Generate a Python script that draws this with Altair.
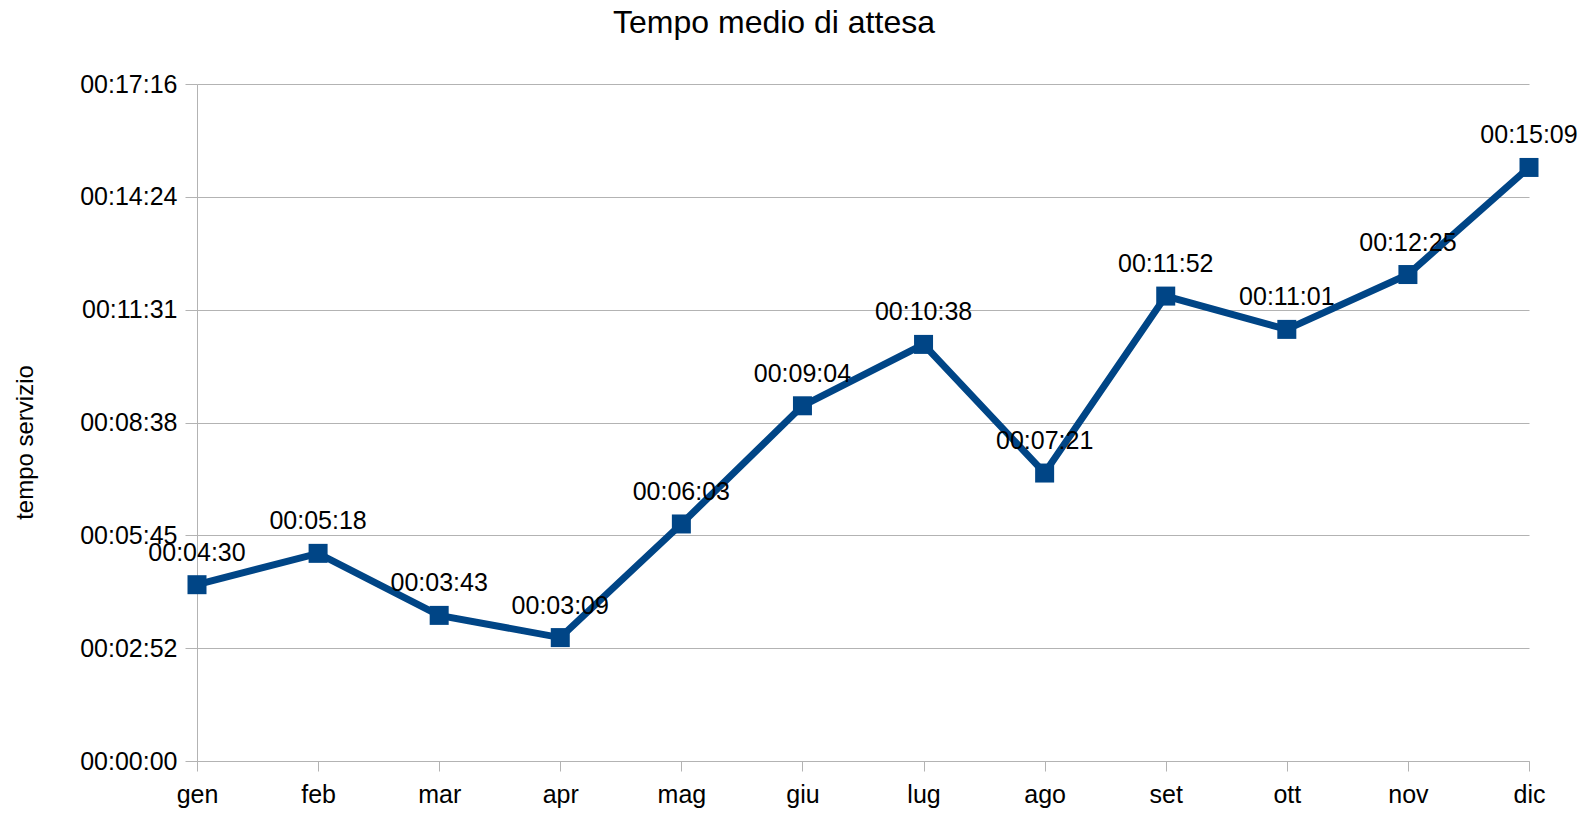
import altair as alt
import pandas as pd

months = ["gen", "feb", "mar", "apr", "mag", "giu", "lug", "ago", "set", "ott", "nov", "dic"]
times = ["00:04:30", "00:05:18", "00:03:43", "00:03:09", "00:06:03", "00:09:04",
         "00:10:38", "00:07:21", "00:11:52", "00:11:01", "00:12:25", "00:15:09"]
y_tick_values = [0, 172.8, 345.6, 518.4, 691.2, 864, 1036.8]
y_tick_labels = ["00:00:00", "00:02:52", "00:05:45", "00:08:38", "00:11:31", "00:14:24", "00:17:16"]


def to_seconds(s):
    h, m, sec = s.split(":")
    return int(h) * 3600 + int(m) * 60 + int(sec)


df = pd.DataFrame({
    "mese": months,
    "secondi": [to_seconds(t) for t in times],
    "etichetta": times,
})

label_map = ", ".join(f"'{v}': '{l}'" for v, l in zip(y_tick_values, y_tick_labels))
label_expr = "{" + label_map + "}[toString(datum.value)]"

FONT = "Liberation Sans"
COLOR = "#004586"
GRID = "#b3b3b3"

x_enc = alt.X("mese:N", sort=months, scale=alt.Scale(type="point", padding=0),
              axis=alt.Axis(title=None, labelAngle=0, labelFontSize=25, labelFont=FONT,
                            labelColor="black", tickColor=GRID, tickSize=10,
                            domainColor=GRID, labelPadding=11, grid=False))
y_enc = alt.Y("secondi:Q", scale=alt.Scale(domain=[0, 1036.8], nice=False, zero=True),
              axis=alt.Axis(title="tempo servizio", values=y_tick_values, labelExpr=label_expr,
                            labelFontSize=25, labelFont=FONT, labelColor="black",
                            tickColor=GRID, tickSize=12, domainColor=GRID, gridColor=GRID,
                            labelPadding=8, titleFont=FONT, titleFontSize=24,
                            titleFontWeight="normal", titleColor="black",
                            titleX=-172, titleY=358, titleAngle=-90,
                            titleAlign="center", titleBaseline="middle"))

base = alt.Chart(df).encode(x=x_enc, y=y_enc)

line = base.mark_line(color=COLOR, strokeWidth=7)
points = base.mark_point(shape="square", filled=True, size=361, color=COLOR, opacity=1)
labels = base.mark_text(font=FONT, fontSize=25, color="black", baseline="alphabetic",
                        dy=-24).encode(text="etichetta:N")

chart = alt.layer(line, points, labels).properties(
    width=1332,
    height=677,
    autosize=alt.AutoSizeParams(type="none"),
    padding={"left": 189, "top": 76, "right": 51, "bottom": 48},
    title=alt.TitleParams("Tempo medio di attesa", font=FONT, fontSize=32,
                          fontWeight="normal", color="black", anchor="middle",
                          dx=-89, offset=7, baseline="alphabetic"),
).configure_view(stroke=None).configure_axis(gridWidth=1, domainWidth=1, tickWidth=1)

chart.save("out.html", embed_options={"renderer": "svg", "actions": False})
